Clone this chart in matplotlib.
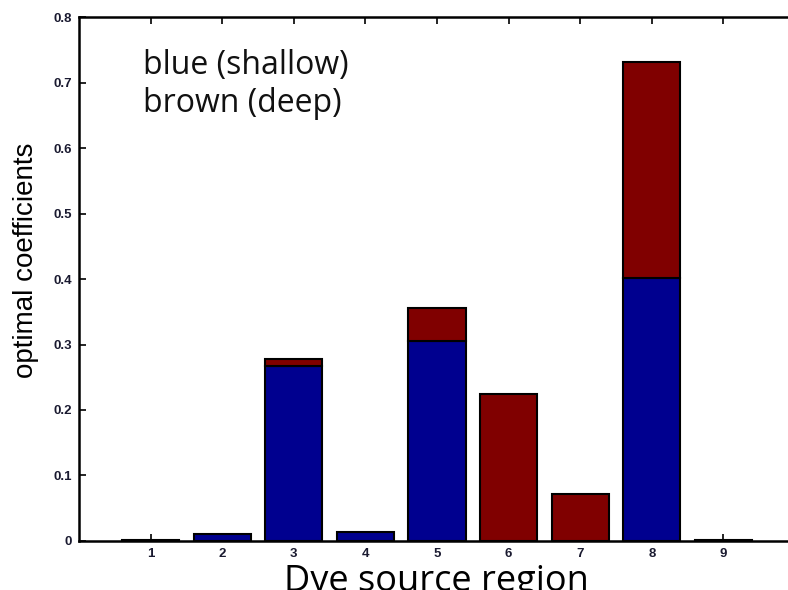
import matplotlib
matplotlib.use("Agg")
import matplotlib.pyplot as plt
import numpy as np

regions = [1, 2, 3, 4, 5, 6, 7, 8, 9]
shallow = [0.001, 0.010, 0.267, 0.013, 0.306, 0.0, 0.0, 0.402, 0.001]
deep = [0.0, 0.0, 0.011, 0.0, 0.049, 0.224, 0.071, 0.330, 0.0]
yticks = [0, 0.1, 0.2, 0.3, 0.4, 0.5, 0.6, 0.7, 0.8]
ytick_labels = ["0", "0.1", "0.2", "0.3", "0.4", "0.5", "0.6", "0.7", "0.8"]

fig = plt.figure(figsize=(7.88, 5.90), dpi=100)
ax = fig.add_axes([0.1003, 0.0831, 0.9086, 0.888])
ax.set_axisbelow(True)

blue = "#00008f"
brown = "#800000"
sh = np.array(shallow)
dp = np.array(deep)
rg = np.array(regions)
ax.bar(rg, sh, width=0.8, color=blue, edgecolor="black", linewidth=1.5)
m = dp > 0
ax.bar(rg[m], dp[m], width=0.8, bottom=sh[m], color=brown, edgecolor="black", linewidth=1.5)

ax.set_xlim(0, 10)
ax.set_ylim(0, 0.8)
ax.set_xticks(regions)
ax.set_xticklabels([str(r) for r in regions], fontsize=9.5, fontweight="bold", color="#1a1a30",
                   family="Liberation Sans")
ax.set_yticks(yticks)
ax.set_yticklabels(ytick_labels, fontsize=9.5, fontweight="bold", color="#1a1a30",
                   family="Liberation Sans")
ax.tick_params(direction="in", length=5, width=1.2, top=True, right=True, pad=5)
for s in ax.spines.values():
    s.set_linewidth(1.8)

ax.set_ylabel("optimal coefficients", fontsize=20, family="Liberation Sans")
ax.yaxis.set_label_coords(-0.0559, 0.536)

ax.text(0.894, 0.751, "blue (shallow)\nbrown (deep)", fontsize=23, family="Open Sans",
        va="top", ha="left", linespacing=1.2, color="#111111")

fig.text(0.554, 1 - 564 / 590, "Dye source region", fontsize=26, family="Open Sans",
         ha="center", va="top")

fig.savefig("out.png", dpi=100)
